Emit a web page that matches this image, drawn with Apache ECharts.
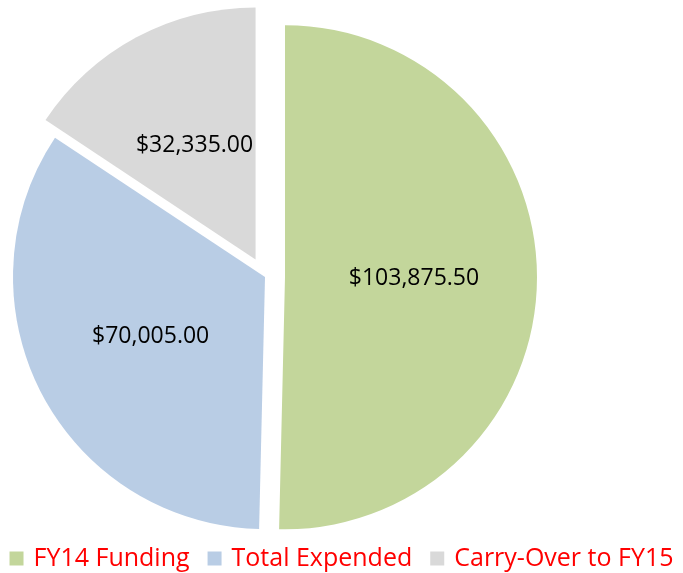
<!DOCTYPE html>
<html>
<head>
<meta charset="utf-8">
<script src="https://cdn.jsdelivr.net/npm/echarts@6/dist/echarts.min.js"></script>
<style>
  html, body { margin: 0; padding: 0; background: #fff; }
  #chart { width: 683px; height: 573px; }
</style>
</head>
<body>
<div id="chart"></div>
<script>
// slices, clockwise from 12 o'clock
var names = ['FY14 Funding', 'Total Expended', 'Carry-Over to FY15'];
var amounts = [103875.50, 70005.00, 32335.00];
var colors = ['#C3D69B', '#B9CDE5', '#D9D9D9'];
var exploded = [true, false, true];

function money(v) {
    return '$' + v.toLocaleString('en-US', { minimumFractionDigits: 2, maximumFractionDigits: 2 });
}

var chart = echarts.init(document.getElementById('chart'));

var pieData = names.map(function (n, i) {
    return {
        name: n,
        value: amounts[i],
        selected: exploded[i],
        itemStyle: { color: colors[i] }
    };
});

chart.setOption({
    animation: false,
    legend: {
        left: 'center',
        top: 541,
        itemWidth: 14,
        itemHeight: 14,
        itemGap: 18,
        icon: 'rect',
        textStyle: {
            color: '#FF0000',
            fontFamily: 'Open Sans',
            fontSize: 25,
            padding: [0, 0, 0, 5]
        },
        data: names
    },
    series: [{
        type: 'pie',
        center: [265, 277],
        radius: 252,
        startAngle: 90,
        clockwise: true,
        selectedMode: 'multiple',
        selectedOffset: 20,
        emphasis: { disabled: true },
        label: {
            show: true,
            position: 'inside',
            color: '#000',
            fontFamily: 'Open Sans',
            fontSize: 23,
            formatter: function (p) { return money(p.value); }
        },
        labelLine: { show: false },
        data: pieData
    }]
});

window.addEventListener('resize', function () {
    chart.resize();
});
</script>
</body>
</html>
